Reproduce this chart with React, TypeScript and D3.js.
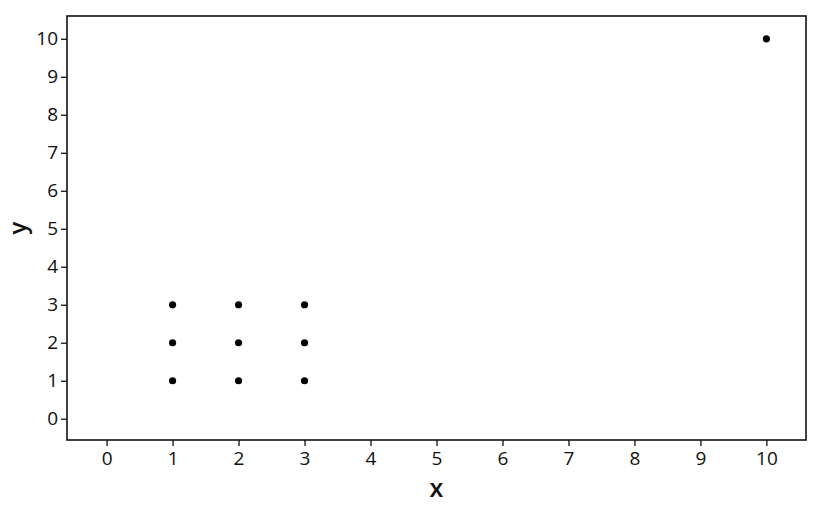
import { useEffect, useRef } from 'react';
import * as d3 from 'd3';

const xValues = [1, 1, 1, 2, 2, 2, 3, 3, 3, 10];
const yValues = [1, 2, 3, 1, 2, 3, 1, 2, 3, 10];
const xTicks = [0, 1, 2, 3, 4, 5, 6, 7, 8, 9, 10];
const yTicks = [0, 1, 2, 3, 4, 5, 6, 7, 8, 9, 10];

const FONT = '"Open Sans", "Noto Sans", sans-serif';

export default function App() {
  const ref = useRef<SVGSVGElement>(null);

  useEffect(() => {
    const el = ref.current;
    if (!el) return;
    const svg = d3.select(el);
    svg.selectAll('*').remove();

    const width = 820;
    const height = 505;
    const margin = { top: 16, right: 14, bottom: 65, left: 67 };

    const x = d3.scaleLinear().domain([-0.6, 10.6]).range([margin.left, width - margin.right]);
    const y = d3.scaleLinear().domain([-0.56, 10.6]).range([height - margin.bottom, margin.top]);

    // frame
    svg
      .append('rect')
      .attr('x', margin.left)
      .attr('y', margin.top)
      .attr('width', width - margin.left - margin.right)
      .attr('height', height - margin.top - margin.bottom)
      .attr('fill', 'none')
      .attr('stroke', '#111')
      .attr('stroke-width', 1.6);

    const xAxis = svg
      .append('g')
      .attr('transform', `translate(0,${height - margin.bottom})`)
      .call(d3.axisBottom(x).tickValues(xTicks).tickSize(6).tickPadding(6).tickFormat(d3.format('d')));
    xAxis.select('.domain').remove();

    const yAxis = svg
      .append('g')
      .attr('transform', `translate(${margin.left},0)`)
      .call(d3.axisLeft(y).tickValues(yTicks).tickSize(6).tickPadding(3).tickFormat(d3.format('d')));
    yAxis.select('.domain').remove();

    svg
      .selectAll('.tick line')
      .attr('stroke', '#111')
      .attr('stroke-width', 1.3);
    svg
      .selectAll('.tick text')
      .attr('fill', '#111')
      .style('font-family', FONT)
      .style('font-size', '19px')
      .style('font-weight', 500);

    svg
      .append('g')
      .selectAll('circle')
      .data(xValues.map((v, i) => [v, yValues[i]]))
      .join('circle')
      .attr('cx', (d) => x(d[0]))
      .attr('cy', (d) => y(d[1]))
      .attr('r', 3.6)
      .attr('fill', '#000');

    svg
      .append('text')
      .attr('x', x(5))
      .attr('y', 497)
      .attr('text-anchor', 'middle')
      .style('font-family', FONT)
      .style('font-size', '25px')
      .style('font-weight', 600)
      .attr('fill', '#111')
      .text('x');

    svg
      .append('text')
      .attr('transform', `translate(26,${(margin.top + height - margin.bottom) / 2}) rotate(-90)`)
      .attr('text-anchor', 'middle')
      .style('font-family', FONT)
      .style('font-size', '24px')
      .style('font-weight', 600)
      .attr('fill', '#111')
      .text('y');
  }, []);

  return (
    <div style={{ position: 'absolute', left: 0, top: 0, background: '#fff' }}>
      <svg ref={ref} width={820} height={505} style={{ display: 'block' }} />
    </div>
  );
}
